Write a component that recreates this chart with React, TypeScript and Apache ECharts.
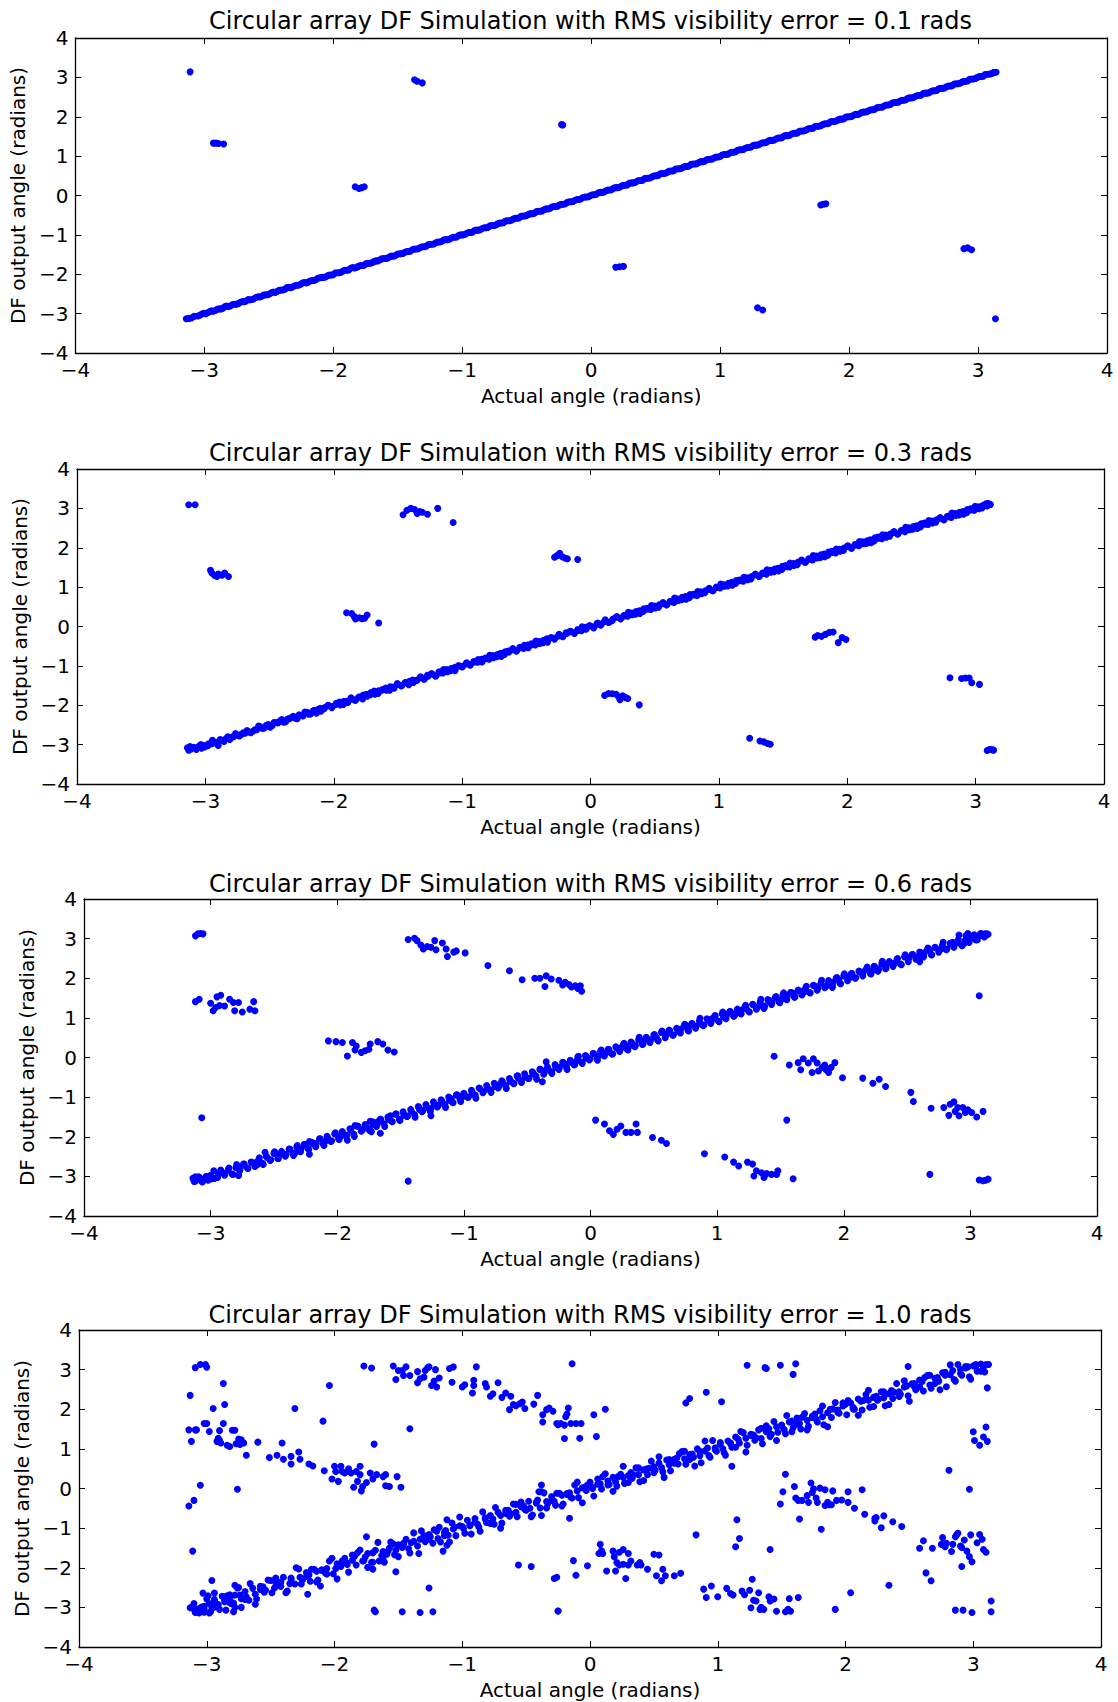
import React, { useEffect, useRef } from "react";
import * as echarts from "echarts";

const TITLES = [
  "Circular array DF Simulation with RMS visibility error = 0.1 rads",
  "Circular array DF Simulation with RMS visibility error = 0.3 rads",
  "Circular array DF Simulation with RMS visibility error = 0.6 rads",
  "Circular array DF Simulation with RMS visibility error = 1.0 rads",
];
const X_NAME = "Actual angle (radians)";
const Y_NAME = "DF output angle (radians)";
const AXIS_MIN = -4;
const AXIS_MAX = 4;
const AXIS_STEP = 1;

// Panel 1 (0.1 rads)
const p1Diag: number[][] = [
  [-3.14,-3.13],[-3.12,-3.12],[-3.10,-3.11],[-3.08,-3.07],[-3.05,-3.06],[-3.02,-3.01],[-2.99,-3.00],[-2.96,-2.95],[-2.93,-2.94],[-2.90,-2.89],
  [-2.87,-2.88],[-2.84,-2.82],[-2.81,-2.82],[-2.78,-2.77],[-2.75,-2.76],[-2.72,-2.71],[-2.69,-2.70],[-2.66,-2.64],[-2.63,-2.64],[-2.60,-2.59],
  [-2.57,-2.58],[-2.54,-2.53],[-2.51,-2.52],[-2.48,-2.47],[-2.45,-2.46],[-2.42,-2.41],[-2.39,-2.40],[-2.36,-2.34],[-2.33,-2.34],[-2.30,-2.29],
  [-2.27,-2.28],[-2.24,-2.22],[-2.21,-2.22],[-2.18,-2.17],[-2.15,-2.16],[-2.12,-2.10],[-2.09,-2.08],[-2.06,-2.07],[-2.03,-2.02],[-2.00,-2.01],
  [-1.97,-1.96],[-1.94,-1.95],[-1.91,-1.90],[-1.88,-1.89],[-1.85,-1.83],[-1.82,-1.83],[-1.79,-1.78],[-1.76,-1.77],[-1.73,-1.72],[-1.70,-1.71],
  [-1.67,-1.66],[-1.64,-1.64],[-1.61,-1.60],[-1.58,-1.59],[-1.55,-1.54],[-1.52,-1.53],[-1.49,-1.48],[-1.46,-1.47],[-1.43,-1.42],[-1.40,-1.41],
  [-1.37,-1.36],[-1.34,-1.35],[-1.31,-1.30],[-1.28,-1.29],[-1.25,-1.24],[-1.22,-1.23],[-1.19,-1.18],[-1.16,-1.17],[-1.13,-1.12],[-1.10,-1.11],
  [-1.07,-1.06],[-1.04,-1.05],[-1.01,-1.00],[-0.98,-0.99],[-0.95,-0.94],[-0.92,-0.93],[-0.89,-0.88],[-0.86,-0.87],[-0.83,-0.82],[-0.80,-0.81],
  [-0.77,-0.76],[-0.74,-0.75],[-0.71,-0.70],[-0.68,-0.69],[-0.65,-0.64],[-0.62,-0.63],[-0.59,-0.58],[-0.56,-0.57],[-0.53,-0.52],[-0.50,-0.51],
  [-0.47,-0.46],[-0.44,-0.45],[-0.41,-0.40],[-0.38,-0.39],[-0.35,-0.34],[-0.32,-0.33],[-0.29,-0.28],[-0.26,-0.27],[-0.23,-0.22],[-0.20,-0.21],
  [-0.17,-0.16],[-0.14,-0.15],[-0.11,-0.10],[-0.08,-0.09],[-0.05,-0.04],[-0.02,-0.03],[0.01,0.02],[0.04,0.03],[0.07,0.08],[0.10,0.09],
  [0.13,0.14],[0.16,0.15],[0.19,0.20],[0.22,0.21],[0.25,0.26],[0.28,0.27],[0.31,0.32],[0.34,0.33],[0.37,0.38],[0.40,0.39],
  [0.43,0.44],[0.46,0.45],[0.49,0.50],[0.52,0.51],[0.55,0.56],[0.58,0.57],[0.61,0.62],[0.64,0.63],[0.67,0.68],[0.70,0.69],
  [0.73,0.74],[0.76,0.75],[0.79,0.80],[0.82,0.81],[0.85,0.86],[0.88,0.87],[0.91,0.92],[0.94,0.93],[0.97,0.98],[1.00,0.99],
  [1.03,1.04],[1.06,1.05],[1.09,1.10],[1.12,1.11],[1.15,1.16],[1.18,1.17],[1.21,1.22],[1.24,1.23],[1.27,1.28],[1.30,1.29],
  [1.33,1.34],[1.36,1.35],[1.39,1.40],[1.42,1.41],[1.45,1.46],[1.48,1.47],[1.51,1.52],[1.54,1.53],[1.57,1.58],[1.60,1.59],
  [1.63,1.64],[1.66,1.65],[1.69,1.70],[1.72,1.71],[1.75,1.76],[1.78,1.77],[1.81,1.82],[1.84,1.83],[1.87,1.88],[1.90,1.89],
  [1.93,1.94],[1.96,1.95],[1.99,2.00],[2.02,2.01],[2.05,2.06],[2.08,2.07],[2.11,2.12],[2.14,2.13],[2.17,2.18],[2.20,2.19],
  [2.23,2.24],[2.26,2.25],[2.29,2.30],[2.32,2.31],[2.35,2.36],[2.38,2.37],[2.41,2.42],[2.44,2.43],[2.47,2.48],[2.50,2.49],
  [2.53,2.54],[2.56,2.55],[2.59,2.60],[2.62,2.61],[2.65,2.66],[2.68,2.67],[2.71,2.72],[2.74,2.73],[2.77,2.78],[2.80,2.79],
  [2.83,2.84],[2.86,2.85],[2.89,2.90],[2.92,2.91],[2.95,2.96],[2.98,2.97],[3.01,3.02],[3.04,3.03],[3.07,3.08],[3.10,3.09],
  [3.12,3.12],[3.14,3.13],
];
const p1Fill: number[][] = [
  [-3.035,-3.04],[-3.005,-2.99],[-2.975,-2.98],[-2.945,-2.93],[-2.915,-2.92],[-2.885,-2.88],[-2.855,-2.86],[-2.825,-2.81],[-2.795,-2.80],[-2.765,-2.76],
  [-2.735,-2.74],[-2.705,-2.69],[-2.675,-2.68],[-2.645,-2.65],[-2.615,-2.62],[-2.585,-2.57],[-2.555,-2.56],[-2.525,-2.52],[-2.495,-2.50],[-2.465,-2.45],
  [-2.435,-2.44],[-2.405,-2.40],[-2.375,-2.38],[-2.345,-2.33],[-2.315,-2.32],[-2.285,-2.28],[-2.255,-2.26],[-2.225,-2.21],[-2.195,-2.20],[-2.165,-2.16],
  [-2.135,-2.14],[-2.105,-2.09],[-2.075,-2.08],[-2.045,-2.04],[-2.015,-2.02],[-1.985,-1.97],[-1.955,-1.96],[-1.925,-1.92],[-1.895,-1.90],[-1.865,-1.85],
  [-1.835,-1.84],[-1.805,-1.80],[-1.775,-1.78],[-1.745,-1.73],[-1.715,-1.72],[-1.685,-1.68],[-1.655,-1.66],[-1.625,-1.61],[-1.595,-1.60],[-1.565,-1.56],
  [-1.535,-1.54],[-1.505,-1.49],[-1.475,-1.48],[-1.445,-1.44],[-1.415,-1.42],[-1.385,-1.37],[-1.355,-1.36],[-1.325,-1.32],[-1.295,-1.30],[-1.265,-1.25],
  [-1.235,-1.24],[-1.205,-1.20],[-1.175,-1.18],[-1.145,-1.13],[-1.115,-1.12],[-1.085,-1.08],[-1.055,-1.06],[-1.025,-1.01],[-0.995,-1.00],[-0.965,-0.96],
  [-0.935,-0.94],[-0.905,-0.89],[-0.875,-0.88],[-0.845,-0.84],[-0.815,-0.82],[-0.785,-0.77],[-0.755,-0.76],[-0.725,-0.72],[-0.695,-0.70],[-0.665,-0.65],
  [-0.635,-0.64],[-0.605,-0.60],[-0.575,-0.58],[-0.545,-0.53],[-0.515,-0.52],[-0.485,-0.48],[-0.455,-0.46],[-0.425,-0.41],[-0.395,-0.40],[-0.365,-0.36],
  [-0.335,-0.34],[-0.305,-0.29],[-0.275,-0.28],[-0.245,-0.24],[-0.215,-0.22],[-0.185,-0.17],[-0.155,-0.16],[-0.125,-0.12],[-0.095,-0.10],[-0.065,-0.05],
  [-0.035,-0.04],[-0.005,0.00],[0.025,0.02],[0.055,0.07],[0.085,0.08],[0.115,0.12],[0.145,0.14],[0.175,0.19],[0.205,0.20],[0.235,0.24],
  [0.265,0.26],[0.295,0.31],[0.325,0.32],[0.355,0.36],[0.385,0.38],[0.415,0.43],[0.445,0.44],[0.475,0.48],[0.505,0.50],[0.535,0.55],
  [0.565,0.56],[0.595,0.60],[0.625,0.62],[0.655,0.67],[0.685,0.68],[0.715,0.72],[0.745,0.74],[0.775,0.79],[0.805,0.80],[0.835,0.84],
  [0.865,0.86],[0.895,0.91],[0.925,0.92],[0.955,0.96],[0.985,0.98],[1.015,1.03],[1.045,1.04],[1.075,1.08],[1.105,1.10],[1.135,1.15],
  [1.165,1.16],[1.195,1.20],[1.225,1.22],[1.255,1.27],[1.285,1.28],[1.315,1.32],[1.345,1.34],[1.375,1.39],[1.405,1.40],[1.435,1.44],
  [1.465,1.46],[1.495,1.51],[1.525,1.52],[1.555,1.56],[1.585,1.58],[1.615,1.63],[1.645,1.64],[1.675,1.68],[1.705,1.70],[1.735,1.75],
  [1.765,1.76],[1.795,1.80],[1.825,1.82],[1.855,1.87],[1.885,1.88],[1.915,1.92],[1.945,1.94],[1.975,1.99],[2.005,2.00],[2.035,2.04],
  [2.065,2.06],[2.095,2.11],[2.125,2.12],[2.155,2.16],[2.185,2.18],[2.215,2.23],[2.245,2.24],[2.275,2.28],[2.305,2.30],[2.335,2.35],
  [2.365,2.36],[2.395,2.40],[2.425,2.42],[2.455,2.47],[2.485,2.48],[2.515,2.52],[2.545,2.54],[2.575,2.59],[2.605,2.60],[2.635,2.64],
  [2.665,2.66],[2.695,2.71],[2.725,2.72],[2.755,2.76],[2.785,2.78],[2.815,2.83],[2.845,2.84],[2.875,2.88],[2.905,2.90],[2.935,2.95],
  [2.965,2.96],[2.995,3.00],[3.025,3.02],[3.055,3.07],[3.085,3.08],[3.115,3.11],
];
const p1Out: number[][] = [
  [-3.11,3.14],[-2.93,1.33],[-2.91,1.33],[-2.89,1.32],[-2.85,1.31],[-1.37,2.94],[-1.35,2.90],[-1.31,2.86],
  [-1.83,0.22],[-1.80,0.18],[-1.78,0.20],[-1.76,0.22],[-0.23,1.80],[-0.22,1.79],[0.19,-1.82],[0.22,-1.81],[0.25,-1.80],
  [1.78,-0.24],[1.80,-0.22],[1.82,-0.21],[1.29,-2.85],[1.33,-2.91],[2.89,-1.35],[2.92,-1.33],[2.95,-1.38],[3.135,-3.13],
];

// Panel 2 (0.3 rads)
const p2Diag: number[][] = [
  [-3.14,-3.08],[-3.13,-3.14],[-3.12,-3.05],[-3.11,-3.11],[-3.09,-3.07],[-3.07,-3.12],[-3.05,-3.04],[-3.03,-3.09],[-3.01,-3.02],[-2.98,-3.03],
  [-2.95,-2.98],[-2.92,-2.96],[-2.90,-3.02],[-2.87,-2.89],[-2.84,-2.85],[-2.81,-2.87],[-2.78,-2.80],[-2.75,-2.77],[-2.72,-2.74],[-2.69,-2.71],
  [-2.66,-2.68],[-2.63,-2.66],[-2.60,-2.62],[-2.57,-2.55],[-2.54,-2.58],[-2.51,-2.49],[-2.48,-2.52],[-2.45,-2.44],[-2.42,-2.40],[-2.39,-2.43],
  [-2.36,-2.35],[-2.33,-2.31],[-2.30,-2.33],[-2.27,-2.24],[-2.24,-2.27],[-2.21,-2.18],[-2.18,-2.22],[-2.15,-2.13],[-2.12,-2.10],[-2.10,-2.15],
  [-2.07,-2.06],[-2.04,-2.01],[-2.01,-2.03],[-1.98,-1.95],[-1.95,-1.99],[-1.92,-1.90],[-1.89,-1.93],[-1.86,-1.84],[-1.83,-1.87],[-1.80,-1.79],
  [-1.77,-1.74],[-1.74,-1.77],[-1.71,-1.68],[-1.68,-1.72],[-1.65,-1.63],[-1.62,-1.60],[-1.59,-1.62],[-1.56,-1.53],[-1.53,-1.57],[-1.50,-1.47],
  [-1.47,-1.50],[-1.44,-1.42],[-1.41,-1.39],[-1.38,-1.42],[-1.35,-1.36],[-1.32,-1.29],[-1.30,-1.33],[-1.27,-1.24],[-1.24,-1.20],[-1.21,-1.25],
  [-1.18,-1.15],[-1.15,-1.18],[-1.12,-1.09],[-1.09,-1.12],[-1.06,-1.04],[-1.03,-1.00],[-1.00,-1.03],[-0.97,-0.95],[-0.94,-0.98],[-0.91,-0.89],
  [-0.88,-0.91],[-0.85,-0.83],[-0.82,-0.80],[-0.79,-0.83],[-0.76,-0.74],[-0.73,-0.77],[-0.70,-0.68],[-0.67,-0.71],[-0.64,-0.62],[-0.61,-0.59],
  [-0.58,-0.62],[-0.55,-0.53],[-0.52,-0.56],[-0.49,-0.47],[-0.46,-0.44],[-0.43,-0.47],[-0.40,-0.38],[-0.37,-0.41],[-0.34,-0.31],[-0.31,-0.29],
  [-0.28,-0.32],[-0.25,-0.24],[-0.22,-0.25],[-0.19,-0.16],[-0.16,-0.13],[-0.13,-0.16],[-0.10,-0.08],[-0.07,-0.11],[-0.04,-0.02],[-0.01,0.02],
  [0.02,-0.01],[0.05,0.06],[0.08,0.03],[0.11,0.13],[0.14,0.10],[0.17,0.15],[0.20,0.24],[0.23,0.21],[0.26,0.28],[0.29,0.26],
  [0.32,0.34],[0.35,0.31],[0.38,0.40],[0.41,0.38],[0.44,0.46],[0.47,0.43],[0.50,0.52],[0.53,0.49],[0.56,0.58],[0.59,0.55],
  [0.62,0.64],[0.65,0.61],[0.68,0.70],[0.71,0.68],[0.74,0.76],[0.77,0.73],[0.80,0.82],[0.83,0.79],[0.86,0.88],[0.89,0.86],
  [0.92,0.94],[0.95,0.91],[0.98,1.00],[1.01,0.98],[1.04,1.06],[1.07,1.03],[1.10,1.12],[1.13,1.09],[1.16,1.18],[1.19,1.15],
  [1.22,1.24],[1.25,1.21],[1.28,1.31],[1.31,1.28],[1.34,1.36],[1.37,1.33],[1.40,1.43],[1.43,1.39],[1.46,1.48],[1.49,1.45],
  [1.52,1.55],[1.55,1.51],[1.58,1.60],[1.61,1.57],[1.64,1.67],[1.67,1.63],[1.70,1.72],[1.73,1.69],[1.76,1.79],[1.79,1.75],
  [1.82,1.84],[1.85,1.81],[1.88,1.91],[1.91,1.87],[1.94,1.96],[1.97,1.93],[2.00,2.03],[2.03,1.99],[2.06,2.08],[2.09,2.05],
  [2.12,2.15],[2.15,2.11],[2.18,2.20],[2.21,2.17],[2.24,2.27],[2.27,2.23],[2.30,2.32],[2.33,2.29],[2.36,2.39],[2.39,2.35],
  [2.42,2.44],[2.45,2.41],[2.48,2.51],[2.51,2.47],[2.54,2.56],[2.57,2.53],[2.60,2.63],[2.63,2.59],[2.66,2.68],[2.69,2.65],
  [2.72,2.75],[2.75,2.71],[2.78,2.80],[2.81,2.77],[2.84,2.87],[2.87,2.83],[2.90,2.92],[2.93,2.89],[2.96,2.99],[2.99,2.95],
  [3.02,3.04],[3.05,3.01],[3.07,3.09],[3.09,3.06],[3.10,3.12],[3.11,3.10],
];
const p2Fill: number[][] = [
  [-3.035,-3.00],[-3.005,-3.06],[-2.975,-2.98],[-2.945,-2.89],[-2.915,-2.95],[-2.885,-2.87],[-2.855,-2.92],[-2.825,-2.80],[-2.795,-2.81],[-2.765,-2.72],
  [-2.735,-2.78],[-2.705,-2.70],[-2.675,-2.64],[-2.645,-2.70],[-2.615,-2.62],[-2.585,-2.53],[-2.555,-2.59],[-2.525,-2.51],[-2.495,-2.56],[-2.465,-2.44],
  [-2.435,-2.45],[-2.405,-2.36],[-2.375,-2.42],[-2.345,-2.34],[-2.315,-2.28],[-2.285,-2.34],[-2.255,-2.26],[-2.225,-2.17],[-2.195,-2.23],[-2.165,-2.15],
  [-2.135,-2.20],[-2.105,-2.08],[-2.075,-2.09],[-2.045,-2.00],[-2.015,-2.06],[-1.985,-1.98],[-1.955,-1.92],[-1.925,-1.98],[-1.895,-1.90],[-1.865,-1.81],
  [-1.835,-1.87],[-1.805,-1.79],[-1.775,-1.84],[-1.745,-1.72],[-1.715,-1.73],[-1.685,-1.64],[-1.655,-1.70],[-1.625,-1.62],[-1.595,-1.56],[-1.565,-1.62],
  [-1.535,-1.54],[-1.505,-1.45],[-1.475,-1.51],[-1.445,-1.43],[-1.415,-1.48],[-1.385,-1.36],[-1.355,-1.37],[-1.325,-1.28],[-1.295,-1.34],[-1.265,-1.26],
  [-1.235,-1.20],[-1.205,-1.26],[-1.175,-1.18],[-1.145,-1.09],[-1.115,-1.15],[-1.085,-1.07],[-1.055,-1.12],[-1.025,-1.00],[-0.995,-1.01],[-0.965,-0.92],
  [-0.935,-0.98],[-0.905,-0.90],[-0.875,-0.84],[-0.845,-0.90],[-0.815,-0.82],[-0.785,-0.73],[-0.755,-0.79],[-0.725,-0.71],[-0.695,-0.76],[-0.665,-0.64],
  [-0.635,-0.65],[-0.605,-0.56],[-0.575,-0.62],[-0.545,-0.54],[-0.515,-0.48],[-0.485,-0.54],[-0.455,-0.46],[-0.425,-0.37],[-0.395,-0.43],[-0.365,-0.35],
  [-0.335,-0.40],[-0.305,-0.28],[-0.275,-0.29],[-0.245,-0.20],[-0.215,-0.26],[-0.185,-0.18],[-0.155,-0.12],[-0.125,-0.18],[-0.095,-0.10],[-0.065,-0.01],
  [-0.035,-0.07],[-0.005,0.02],[0.025,-0.04],[0.055,0.09],[0.085,0.07],[0.115,0.17],[0.145,0.11],[0.175,0.19],[0.205,0.25],[0.235,0.19],
  [0.265,0.27],[0.295,0.36],[0.325,0.30],[0.355,0.38],[0.385,0.33],[0.415,0.45],[0.445,0.44],[0.475,0.53],[0.505,0.47],[0.535,0.55],
  [0.565,0.61],[0.595,0.55],[0.625,0.63],[0.655,0.72],[0.685,0.66],[0.715,0.74],[0.745,0.69],[0.775,0.81],[0.805,0.80],[0.835,0.89],
  [0.865,0.83],[0.895,0.91],[0.925,0.97],[0.955,0.91],[0.985,0.99],[1.015,1.08],[1.045,1.02],[1.075,1.10],[1.105,1.05],[1.135,1.17],
  [1.165,1.16],[1.195,1.25],[1.225,1.19],[1.255,1.27],[1.285,1.33],[1.315,1.27],[1.345,1.35],[1.375,1.44],[1.405,1.38],[1.435,1.46],
  [1.465,1.41],[1.495,1.53],[1.525,1.52],[1.555,1.61],[1.585,1.55],[1.615,1.63],[1.645,1.69],[1.675,1.63],[1.705,1.71],[1.735,1.80],
  [1.765,1.74],[1.795,1.82],[1.825,1.77],[1.855,1.89],[1.885,1.88],[1.915,1.97],[1.945,1.91],[1.975,1.99],[2.005,2.05],[2.035,1.99],
  [2.065,2.07],[2.095,2.16],[2.125,2.10],[2.155,2.18],[2.185,2.13],[2.215,2.25],[2.245,2.24],[2.275,2.33],[2.305,2.27],[2.335,2.35],
  [2.365,2.41],[2.395,2.35],[2.425,2.43],[2.455,2.52],[2.485,2.46],[2.515,2.54],[2.545,2.49],[2.575,2.61],[2.605,2.60],[2.635,2.69],
  [2.665,2.63],[2.695,2.71],[2.725,2.77],[2.755,2.71],[2.785,2.79],[2.815,2.88],[2.845,2.82],[2.875,2.90],[2.905,2.85],[2.935,2.97],
  [2.965,2.96],[2.995,3.05],[3.025,2.99],[3.055,3.07],[3.085,3.12],[3.115,3.10],
];
const p2Out: number[][] = [
  [-3.13,3.09],[-3.08,3.09],
  [-2.96,1.43],[-2.95,1.36],[-2.93,1.30],[-2.91,1.27],[-2.90,1.33],[-2.87,1.30],[-2.85,1.36],[-2.82,1.27],
  [-1.90,0.35],[-1.86,0.33],[-1.84,0.25],[-1.83,0.19],[-1.80,0.22],[-1.78,0.20],[-1.76,0.21],[-1.74,0.29],[-1.65,0.09],
  [-1.46,2.84],[-1.43,2.95],[-1.40,3.00],[-1.37,2.97],[-1.35,2.87],[-1.33,2.92],[-1.31,2.90],[-1.27,2.85],[-1.19,3.00],[-1.07,2.64],
  [-0.28,1.76],[-0.26,1.80],[-0.24,1.86],[-0.22,1.77],[-0.20,1.74],[-0.18,1.72],[-0.10,1.70],
  [0.11,-1.75],[0.14,-1.70],[0.17,-1.71],[0.20,-1.72],[0.22,-1.79],[0.23,-1.86],[0.25,-1.76],[0.27,-1.80],[0.29,-1.83],[0.38,-1.99],
  [1.24,-2.84],[1.32,-2.91],[1.35,-2.93],[1.38,-2.97],[1.40,-2.99],
  [1.75,-0.27],[1.77,-0.23],[1.80,-0.25],[1.83,-0.20],[1.86,-0.15],[1.89,-0.14],[1.93,-0.41],[1.96,-0.28],[1.99,-0.33],
  [2.80,-1.30],[2.89,-1.32],[2.92,-1.31],[2.95,-1.31],[2.97,-1.43],[3.03,-1.47],
  [3.09,-3.15],[3.11,-3.12],[3.13,-3.13],[3.14,-3.14],
];

// Panel 3 (0.6 rads)
const p3Diag: number[][] = [
  [-3.14,-3.05],[-3.13,-3.13],[-3.11,-3.09],[-3.09,-3.02],[-3.07,-3.12],[-3.05,-3.06],[-3.02,-3.10],[-3.00,-2.97],[-2.97,-3.05],[-2.94,-2.92],
  [-2.92,-2.84],[-2.89,-2.97],[-2.86,-2.83],[-2.83,-2.94],[-2.80,-2.78],[-2.77,-2.86],[-2.74,-2.69],[-2.71,-2.79],[-2.68,-2.64],[-2.65,-2.75],
  [-2.62,-2.58],[-2.59,-2.67],[-2.56,-2.49],[-2.53,-2.60],[-2.50,-2.42],[-2.47,-2.55],[-2.44,-2.37],[-2.41,-2.49],[-2.38,-2.31],[-2.35,-2.43],
  [-2.32,-2.26],[-2.29,-2.38],[-2.26,-2.19],[-2.23,-2.30],[-2.20,-2.14],[-2.17,-2.25],[-2.14,-2.05],[-2.11,-2.18],[-2.08,-1.99],[-2.05,-2.12],
  [-2.02,-1.93],[-1.99,-2.05],[-1.96,-1.87],[-1.93,-1.99],[-1.90,-1.80],[-1.87,-1.93],[-1.84,-1.73],[-1.81,-1.86],[-1.78,-1.69],[-1.75,-1.80],
  [-1.72,-1.62],[-1.69,-1.74],[-1.66,-1.55],[-1.63,-1.67],[-1.60,-1.50],[-1.57,-1.61],[-1.54,-1.43],[-1.51,-1.56],[-1.48,-1.37],[-1.45,-1.49],
  [-1.42,-1.31],[-1.39,-1.44],[-1.36,-1.24],[-1.33,-1.37],[-1.30,-1.19],[-1.27,-1.31],[-1.24,-1.12],[-1.21,-1.25],[-1.18,-1.07],[-1.15,-1.19],
  [-1.12,-1.00],[-1.09,-1.13],[-1.06,-0.95],[-1.03,-1.06],[-1.00,-0.90],[-0.97,-1.00],[-0.94,-0.83],[-0.91,-0.95],[-0.88,-0.77],[-0.85,-0.89],
  [-0.82,-0.71],[-0.79,-0.83],[-0.76,-0.65],[-0.73,-0.77],[-0.70,-0.59],[-0.67,-0.71],[-0.64,-0.53],[-0.61,-0.65],[-0.58,-0.47],[-0.55,-0.59],
  [-0.52,-0.41],[-0.49,-0.53],[-0.46,-0.36],[-0.43,-0.47],[-0.40,-0.30],[-0.37,-0.42],[-0.34,-0.24],[-0.31,-0.36],[-0.28,-0.18],[-0.25,-0.30],
  [-0.22,-0.12],[-0.19,-0.24],[-0.16,-0.07],[-0.13,-0.18],[-0.10,0.01],[-0.07,-0.12],[-0.04,0.05],[-0.01,-0.06],[0.02,0.10],[0.05,-0.01],
  [0.08,0.16],[0.11,0.04],[0.14,0.21],[0.17,0.09],[0.20,0.27],[0.23,0.15],[0.26,0.33],[0.29,0.21],[0.32,0.39],[0.35,0.27],
  [0.38,0.45],[0.41,0.33],[0.44,0.51],[0.47,0.38],[0.50,0.57],[0.53,0.44],[0.56,0.63],[0.59,0.50],[0.62,0.69],[0.65,0.56],
  [0.68,0.74],[0.71,0.62],[0.74,0.80],[0.77,0.68],[0.80,0.86],[0.83,0.74],[0.86,0.92],[0.89,0.80],[0.92,0.98],[0.95,0.86],
  [0.98,1.04],[1.01,0.92],[1.04,1.10],[1.07,0.98],[1.10,1.16],[1.13,1.04],[1.16,1.22],[1.19,1.10],[1.22,1.28],[1.25,1.16],
  [1.28,1.34],[1.31,1.22],[1.34,1.40],[1.37,1.28],[1.40,1.46],[1.43,1.34],[1.46,1.52],[1.49,1.40],[1.52,1.58],[1.55,1.46],
  [1.58,1.64],[1.61,1.52],[1.64,1.70],[1.67,1.58],[1.70,1.76],[1.73,1.64],[1.76,1.82],[1.79,1.70],[1.82,1.88],[1.85,1.76],
  [1.88,1.94],[1.91,1.82],[1.94,2.00],[1.97,1.88],[2.00,2.06],[2.03,1.94],[2.06,2.12],[2.09,2.00],[2.12,2.18],[2.15,2.06],
  [2.18,2.24],[2.21,2.12],[2.24,2.30],[2.27,2.18],[2.30,2.36],[2.33,2.24],[2.36,2.42],[2.39,2.30],[2.42,2.48],[2.45,2.36],
  [2.48,2.54],[2.51,2.42],[2.54,2.60],[2.57,2.48],[2.60,2.66],[2.63,2.54],[2.66,2.72],[2.69,2.60],[2.72,2.78],[2.75,2.66],
  [2.78,2.84],[2.81,2.72],[2.84,2.88],[2.87,2.78],[2.90,2.92],[2.93,2.84],[2.96,2.96],[2.99,2.90],[3.02,3.02],[3.05,2.97],
  [3.08,3.08],[3.11,3.04],[3.13,3.12],
  [-3.12,-3.01],[-2.99,-3.06],[-2.91,-2.90],[-2.78,-2.98],[-2.63,-2.70],[-2.57,-2.39],[-2.46,-2.47],[-2.33,-2.40],[-2.22,-2.12],[-2.09,-2.10],
  [-1.97,-1.98],[-1.86,-1.72],[-1.80,-1.82],[-1.74,-1.61],[-1.68,-1.62],[-1.58,-1.47],[-1.47,-1.45],[-1.35,-1.31],[-1.26,-1.28],[-1.20,-1.20],
  [-1.10,-1.04],[-1.02,-0.97],[-0.93,-0.92],[-0.81,-0.79],[-0.72,-0.68],[-0.63,-0.60],[-0.57,-0.52],[-0.45,-0.41],[-0.36,-0.34],[-0.27,-0.23],
  [-0.20,-0.17],[-0.11,-0.09],[-0.03,0.01],[0.07,0.05],[0.15,0.14],[0.24,0.23],[0.31,0.30],[0.42,0.42],[0.52,0.51],[0.60,0.58],
  [0.69,0.67],[0.78,0.79],[0.87,0.85],[0.96,0.98],[1.05,1.03],[1.15,1.11],[1.23,1.23],[1.33,1.30],[1.42,1.43],[1.51,1.47],
  [1.60,1.62],[1.69,1.66],[1.78,1.79],[1.87,1.83],[1.96,1.97],[2.05,2.02],[2.14,2.15],[2.23,2.20],[2.32,2.35],[2.41,2.39],
  [2.50,2.52],[2.59,2.55],[2.68,2.70],[2.77,2.74],[2.86,2.91],[2.95,2.88],[3.03,3.10],[3.12,3.08],
  [-2.78,-2.97],[-1.66,-1.91],[-1.73,-1.87],[-1.26,-1.47],[-1.92,-2.09],[-2.22,-2.44],[-0.38,-0.61],[-0.35,-0.11],
  [1.37,1.24],[1.91,1.77],[2.60,2.42],[2.91,3.09],[2.98,3.13],[3.01,3.05],[3.04,2.97],[3.08,3.13],[3.12,3.10],[3.14,3.11],
];
const p3Fill: number[][] = [
  [-3.125,-3.13],[-3.095,-3.01],[-3.065,-3.14],[-3.035,-3.00],[-3.005,-3.06],[-2.975,-2.86],[-2.945,-3.03],[-2.915,-2.90],[-2.885,-2.92],[-2.855,-2.79],
  [-2.825,-2.95],[-2.795,-2.70],[-2.765,-2.78],[-2.735,-2.69],[-2.705,-2.80],[-2.675,-2.65],[-2.645,-2.65],[-2.615,-2.53],[-2.585,-2.70],[-2.555,-2.52],
  [-2.525,-2.58],[-2.495,-2.38],[-2.465,-2.55],[-2.435,-2.42],[-2.405,-2.44],[-2.375,-2.31],[-2.345,-2.47],[-2.315,-2.22],[-2.285,-2.30],[-2.255,-2.21],
  [-2.225,-2.32],[-2.195,-2.17],[-2.165,-2.17],[-2.135,-2.05],[-2.105,-2.22],[-2.075,-2.04],[-2.045,-2.10],[-2.015,-1.90],[-1.985,-2.07],[-1.955,-1.94],
  [-1.925,-1.96],[-1.895,-1.83],[-1.865,-1.99],[-1.835,-1.74],[-1.805,-1.82],[-1.775,-1.73],[-1.745,-1.84],[-1.715,-1.69],[-1.685,-1.69],[-1.655,-1.57],
  [-1.625,-1.74],[-1.595,-1.56],[-1.565,-1.62],[-1.535,-1.42],[-1.505,-1.59],[-1.475,-1.46],[-1.445,-1.48],[-1.415,-1.35],[-1.385,-1.51],[-1.355,-1.26],
  [-1.325,-1.34],[-1.295,-1.25],[-1.265,-1.36],[-1.235,-1.21],[-1.205,-1.21],[-1.175,-1.09],[-1.145,-1.26],[-1.115,-1.08],[-1.085,-1.14],[-1.055,-0.94],
  [-1.025,-1.11],[-0.995,-0.98],[-0.965,-1.00],[-0.935,-0.87],[-0.905,-1.03],[-0.875,-0.78],[-0.845,-0.86],[-0.815,-0.77],[-0.785,-0.88],[-0.755,-0.73],
  [-0.725,-0.73],[-0.695,-0.61],[-0.665,-0.78],[-0.635,-0.60],[-0.605,-0.66],[-0.575,-0.46],[-0.545,-0.63],[-0.515,-0.50],[-0.485,-0.52],[-0.455,-0.39],
  [-0.425,-0.55],[-0.395,-0.30],[-0.365,-0.38],[-0.335,-0.29],[-0.305,-0.40],[-0.275,-0.25],[-0.245,-0.25],[-0.215,-0.13],[-0.185,-0.30],[-0.155,-0.12],
  [-0.125,-0.18],[-0.095,0.03],[-0.065,-0.15],[-0.035,-0.02],[-0.005,-0.04],[0.025,0.10],[0.055,-0.07],[0.085,0.19],[0.115,0.11],[0.145,0.20],
  [0.175,0.09],[0.205,0.24],[0.235,0.24],[0.265,0.36],[0.295,0.19],[0.325,0.37],[0.355,0.31],[0.385,0.51],[0.415,0.34],[0.445,0.47],
  [0.475,0.45],[0.505,0.58],[0.535,0.42],[0.565,0.67],[0.595,0.59],[0.625,0.68],[0.655,0.57],[0.685,0.72],[0.715,0.72],[0.745,0.84],
  [0.775,0.67],[0.805,0.85],[0.835,0.79],[0.865,0.99],[0.895,0.82],[0.925,0.95],[0.955,0.93],[0.985,1.06],[1.015,0.90],[1.045,1.15],
  [1.075,1.07],[1.105,1.16],[1.135,1.05],[1.165,1.20],[1.195,1.20],[1.225,1.32],[1.255,1.15],[1.285,1.33],[1.315,1.27],[1.345,1.47],
  [1.375,1.30],[1.405,1.43],[1.435,1.41],[1.465,1.54],[1.495,1.38],[1.525,1.63],[1.555,1.55],[1.585,1.64],[1.615,1.53],[1.645,1.68],
  [1.675,1.68],[1.705,1.80],[1.735,1.63],[1.765,1.81],[1.795,1.75],[1.825,1.95],[1.855,1.78],[1.885,1.91],[1.915,1.89],[1.945,2.02],
  [1.975,1.86],[2.005,2.11],[2.035,2.03],[2.065,2.12],[2.095,2.01],[2.125,2.16],[2.155,2.16],[2.185,2.28],[2.215,2.11],[2.245,2.29],
  [2.275,2.23],[2.305,2.43],[2.335,2.26],[2.365,2.39],[2.395,2.37],[2.425,2.50],[2.455,2.34],[2.485,2.59],[2.515,2.51],[2.545,2.60],
  [2.575,2.49],[2.605,2.64],[2.635,2.64],[2.665,2.76],[2.695,2.59],[2.725,2.77],[2.755,2.71],[2.785,2.91],[2.815,2.74],[2.845,2.87],
  [2.875,2.85],[2.905,2.98],[2.935,2.82],[2.965,3.07],[2.995,2.99],[3.025,3.08],[3.055,2.97],[3.085,3.12],[3.115,3.12],
];
const p3Out: number[][] = [
  [-3.12,3.07],[-3.10,3.12],[-3.08,3.13],[-3.06,3.12],
  [-3.12,1.41],[-3.09,1.47],[-3.00,1.37],[-2.98,1.18],[-2.96,1.26],[-2.95,1.53],[-2.92,1.57],[-2.93,1.31],[-2.89,1.30],[-2.85,1.47],
  [-2.82,1.39],[-2.81,1.18],[-2.78,1.39],[-2.75,1.15],[-2.69,1.22],[-2.66,1.41],[-2.65,1.18],
  [-3.07,-1.52],
  [-2.07,0.42],[-2.01,0.40],[-1.96,0.38],[-1.92,0.04],[-1.88,0.38],[-1.86,0.19],[-1.85,0.29],[-1.81,0.13],[-1.78,0.17],[-1.75,0.21],
  [-1.74,0.34],[-1.68,0.40],[-1.64,0.34],[-1.60,0.19],[-1.55,0.14],
  [-1.44,-3.12],
  [-1.44,2.98],[-1.39,3.01],[-1.37,2.95],[-1.34,2.84],[-1.32,2.74],[-1.29,2.80],[-1.26,2.78],[-1.23,2.95],[-1.22,2.72],[-1.17,2.89],
  [-1.14,2.74],[-1.13,2.55],[-1.08,2.66],[-1.06,2.69],[-0.99,2.64],[-0.81,2.32],[-0.64,2.19],[-0.54,1.96],[-0.44,2.00],[-0.40,2.00],
  [-0.36,1.79],[-0.35,2.06],[-0.31,1.98],[-0.25,1.95],[-0.22,1.83],[-0.20,1.90],[-0.17,1.84],[-0.15,1.78],[-0.12,1.81],[-0.08,1.81],
  [-0.07,1.67],[-0.10,1.74],
  [1.45,0.03],[1.57,-0.19],[1.64,-0.13],[1.66,-0.31],[1.68,-0.03],[1.72,-0.14],[1.75,-0.38],[1.76,-0.03],[1.79,-0.14],[1.80,-0.34],
  [1.83,-0.25],[1.85,-0.19],[1.86,-0.31],[1.88,-0.38],[1.90,-0.25],[1.93,-0.13],
  [1.99,-0.51],[2.15,-0.52],[2.23,-0.65],[2.28,-0.55],[2.33,-0.73],[2.53,-0.88],[2.55,-1.11],[2.69,-1.28],
  [2.79,-1.26],[2.83,-1.46],[2.84,-1.18],[2.87,-1.12],[2.88,-1.36],[2.90,-1.26],[2.91,-1.47],[2.94,-1.26],[2.96,-1.39],[2.98,-1.32],
  [3.01,-1.39],[3.05,-1.50],[3.10,-1.36],
  [3.07,1.56],[1.55,-1.58],
  [0.04,-1.58],[0.11,-1.68],[0.15,-1.85],[0.18,-1.94],[0.21,-1.81],[0.24,-1.73],[0.28,-1.89],[0.32,-1.89],[0.36,-1.68],[0.37,-1.89],
  [0.49,-2.02],[0.56,-2.09],[0.60,-2.17],
  [0.90,-2.43],[1.06,-2.51],[1.13,-2.64],[1.17,-2.74],[1.24,-2.64],[1.28,-2.69],[1.29,-2.99],[1.31,-2.86],[1.35,-2.91],[1.37,-3.03],
  [1.39,-2.93],[1.43,-2.95],[1.48,-2.86],[1.47,-2.95],[1.60,-3.06],
  [2.68,-2.95],[3.07,-3.09],[3.10,-3.11],[3.12,-3.10],[3.14,-3.07],
];

// Panel 4 (1.0 rads)
const p4Diag: number[][] = [
  [-3.12,-3.00],[-3.09,-3.13],[-3.06,-3.03],[-3.03,-3.10],[-3.00,-2.79],[-2.97,-3.11],[-2.94,-2.86],[-2.91,-2.93],[-2.88,-2.72],[-2.85,-3.07],
  [-2.82,-2.77],[-2.79,-2.89],[-2.76,-2.51],[-2.73,-2.78],[-2.70,-2.60],[-2.67,-2.82],[-2.64,-2.52],[-2.61,-2.79],[-2.58,-2.55],[-2.55,-2.62],
  [-2.52,-2.31],[-2.49,-2.63],[-2.46,-2.38],[-2.43,-2.45],[-2.40,-2.24],[-2.37,-2.59],[-2.34,-2.29],[-2.31,-2.41],[-2.28,-2.03],[-2.25,-2.30],
  [-2.22,-2.12],[-2.19,-2.34],[-2.16,-2.04],[-2.13,-2.31],[-2.10,-2.07],[-2.07,-2.14],[-2.04,-1.83],[-2.01,-2.15],[-1.98,-1.90],[-1.95,-1.97],
  [-1.92,-1.76],[-1.89,-2.11],[-1.86,-1.81],[-1.83,-1.93],[-1.80,-1.55],[-1.77,-1.82],[-1.74,-1.64],[-1.71,-1.86],[-1.68,-1.56],[-1.65,-1.83],
  [-1.62,-1.59],[-1.59,-1.66],[-1.56,-1.35],[-1.53,-1.67],[-1.50,-1.42],[-1.47,-1.49],[-1.44,-1.28],[-1.41,-1.63],[-1.38,-1.33],[-1.35,-1.45],
  [-1.32,-1.07],[-1.29,-1.34],[-1.26,-1.16],[-1.23,-1.38],[-1.20,-1.08],[-1.17,-1.35],[-1.14,-1.11],[-1.11,-1.18],[-1.08,-0.87],[-1.05,-1.19],
  [-1.02,-0.94],[-0.99,-1.01],[-0.96,-0.80],[-0.93,-1.15],[-0.90,-0.85],[-0.87,-0.97],[-0.84,-0.59],[-0.81,-0.86],[-0.78,-0.68],[-0.75,-0.90],
  [-0.72,-0.60],[-0.69,-0.87],[-0.66,-0.63],[-0.63,-0.70],[-0.60,-0.39],[-0.57,-0.71],[-0.54,-0.46],[-0.51,-0.53],[-0.48,-0.32],[-0.45,-0.67],
  [-0.42,-0.37],[-0.39,-0.49],[-0.36,-0.11],[-0.33,-0.38],[-0.30,-0.20],[-0.27,-0.42],[-0.24,-0.12],[-0.21,-0.39],[-0.18,-0.15],[-0.15,-0.22],
  [-0.12,0.09],[-0.09,-0.23],[-0.06,0.02],[-0.03,-0.05],[0.00,0.16],[0.03,-0.19],[0.06,0.11],[0.09,-0.01],[0.12,0.37],[0.15,0.10],
  [0.18,0.28],[0.21,0.06],[0.24,0.36],[0.27,0.13],[0.30,0.33],[0.33,0.26],[0.36,0.52],[0.39,0.17],[0.42,0.47],[0.45,0.35],
  [0.48,0.69],[0.51,0.46],[0.54,0.64],[0.57,0.42],[0.60,0.72],[0.63,0.45],[0.66,0.74],[0.69,0.62],[0.72,0.93],[0.75,0.61],
  [0.78,0.86],[0.81,0.79],[0.84,1.00],[0.87,0.65],[0.90,0.95],[0.93,0.83],[0.96,1.21],[0.99,0.94],[1.02,1.12],[1.05,0.90],
  [1.08,1.20],[1.11,1.04],[1.14,1.30],[1.17,1.15],[1.20,1.41],[1.23,1.09],[1.26,1.34],[1.29,1.22],[1.32,1.48],[1.35,1.13],
  [1.38,1.43],[1.41,1.31],[1.44,1.69],[1.47,1.42],[1.50,1.60],[1.53,1.38],[1.56,1.68],[1.59,1.53],[1.62,1.78],[1.65,1.50],
  [1.68,1.89],[1.71,1.57],[1.74,1.82],[1.77,1.75],[1.80,1.96],[1.83,1.61],[1.86,1.91],[1.89,1.79],[1.92,2.17],[1.95,1.90],
  [1.98,2.08],[2.01,1.86],[2.04,2.16],[2.07,2.00],[2.10,2.26],[2.13,1.98],[2.16,2.37],[2.19,2.05],[2.22,2.30],[2.25,2.23],
  [2.28,2.44],[2.31,2.09],[2.34,2.39],[2.37,2.27],[2.40,2.65],[2.43,2.38],[2.46,2.56],[2.49,2.34],[2.52,2.64],[2.55,2.49],
  [2.58,2.74],[2.61,2.46],[2.64,2.85],[2.67,2.53],[2.70,2.78],[2.73,2.71],[2.76,2.92],[2.79,2.57],[2.82,2.87],[2.85,2.75],
  [2.88,3.13],[2.91,2.86],[2.94,3.04],[2.97,2.82],[3.00,3.10],[3.03,2.96],[3.06,3.14],[3.09,2.94],[3.12,3.13],
  [-3.10,-3.05],[-3.02,-2.97],[-2.95,-3.00],[-2.86,-2.80],[-2.74,-2.70],[-2.69,-2.74],[-2.62,-2.67],[-2.56,-2.48],[-2.47,-2.51],[-2.42,-2.36],
  [-2.35,-2.40],[-2.27,-2.24],[-2.20,-2.18],[-2.14,-2.09],[-2.06,-2.02],[-1.99,-2.02],[-1.91,-1.86],[-1.84,-1.70],[-1.76,-1.73],[-1.70,-1.62],
  [-1.63,-1.69],[-1.57,-1.50],[-1.52,-1.56],[-1.46,-1.38],[-1.40,-1.37],[-1.33,-1.28],[-1.25,-1.22],[-1.19,-1.26],[-1.13,-1.06],[-1.07,-1.02],
  [-1.00,-0.96],[-0.94,-0.92],[-0.88,-0.90],[-0.82,-0.74],[-0.76,-0.77],[-0.70,-0.68],[-0.64,-0.55],[-0.58,-0.60],[-0.52,-0.44],[-0.47,-0.50],
  [-0.41,-0.29],[-0.34,-0.33],[-0.28,-0.32],[-0.22,-0.17],[-0.16,-0.11],[-0.10,-0.06],[-0.04,0.04],[0.02,0.03],[0.08,0.12],[0.14,0.19],
  [0.20,0.17],[0.26,0.28],[0.32,0.40],[0.38,0.35],[0.44,0.49],[0.50,0.55],[0.56,0.53],[0.62,0.60],[0.68,0.77],[0.74,0.75],
  [0.80,0.87],[0.86,0.83],[0.92,1.02],[0.98,1.03],[1.04,1.00],[1.10,1.13],[1.16,1.24],[1.22,1.27],[1.28,1.35],[1.34,1.26],
  [1.40,1.51],[1.46,1.56],[1.52,1.49],[1.58,1.70],[1.64,1.64],[1.70,1.72],[1.76,1.88],[1.82,1.81],[1.88,2.00],[1.94,1.98],
  [2.00,2.13],[2.06,2.05],[2.12,2.20],[2.18,2.23],[2.24,2.33],[2.30,2.29],[2.36,2.47],[2.42,2.44],[2.48,2.59],[2.54,2.57],
  [2.60,2.70],[2.66,2.61],[2.72,2.80],[2.78,2.93],[2.84,2.98],[2.90,3.01],[2.96,3.07],[3.02,3.13],[3.08,3.06],
];
const p4Fill: number[][] = [
  [-3.10,-2.90],[-3.06,-3.11],[-3.02,-3.12],[-2.98,-2.90],[-2.94,-2.64],[-2.90,-3.05],[-2.86,-2.86],[-2.82,-2.68],[-2.78,-3.00],[-2.74,-2.69],
  [-2.70,-2.80],[-2.66,-2.40],[-2.62,-2.92],[-2.58,-2.47],[-2.54,-2.56],[-2.50,-2.32],[-2.46,-2.26],[-2.42,-2.47],[-2.38,-2.63],[-2.34,-2.26],
  [-2.30,-2.00],[-2.26,-2.41],[-2.22,-2.22],[-2.18,-2.04],[-2.14,-2.36],[-2.10,-2.05],[-2.06,-2.16],[-2.02,-1.76],[-1.98,-2.28],[-1.94,-1.83],
  [-1.90,-1.92],[-1.86,-1.68],[-1.82,-1.62],[-1.78,-1.83],[-1.74,-1.99],[-1.70,-1.62],[-1.66,-1.36],[-1.62,-1.77],[-1.58,-1.58],[-1.54,-1.40],
  [-1.50,-1.72],[-1.46,-1.41],[-1.42,-1.52],[-1.38,-1.12],[-1.34,-1.64],[-1.30,-1.19],[-1.26,-1.28],[-1.22,-1.04],[-1.18,-0.98],[-1.14,-1.19],
  [-1.10,-1.35],[-1.06,-0.98],[-1.02,-0.72],[-0.98,-1.13],[-0.94,-0.94],[-0.90,-0.76],[-0.86,-1.08],[-0.82,-0.77],[-0.78,-0.88],[-0.74,-0.48],
  [-0.70,-1.00],[-0.66,-0.55],[-0.62,-0.64],[-0.58,-0.40],[-0.54,-0.34],[-0.50,-0.55],[-0.46,-0.71],[-0.42,-0.34],[-0.38,-0.08],[-0.34,-0.49],
  [-0.30,-0.30],[-0.26,-0.12],[-0.22,-0.44],[-0.18,-0.13],[-0.14,-0.24],[-0.10,0.16],[-0.06,-0.36],[-0.02,0.09],[0.02,0.00],[0.06,0.24],
  [0.10,0.30],[0.14,0.09],[0.18,-0.07],[0.22,0.30],[0.26,0.56],[0.30,0.15],[0.34,0.34],[0.38,0.52],[0.42,0.20],[0.46,0.51],
  [0.50,0.40],[0.54,0.80],[0.58,0.28],[0.62,0.73],[0.66,0.64],[0.70,0.88],[0.74,0.94],[0.78,0.73],[0.82,0.57],[0.86,0.94],
  [0.90,1.20],[0.94,0.79],[0.98,0.98],[1.02,1.16],[1.06,0.84],[1.10,1.15],[1.14,1.04],[1.18,1.44],[1.22,0.92],[1.26,1.37],
  [1.30,1.28],[1.34,1.52],[1.38,1.58],[1.42,1.37],[1.46,1.21],[1.50,1.58],[1.54,1.84],[1.58,1.43],[1.62,1.62],[1.66,1.80],
  [1.70,1.48],[1.74,1.79],[1.78,1.68],[1.82,2.08],[1.86,1.56],[1.90,2.01],[1.94,1.92],[1.98,2.16],[2.02,2.22],[2.06,2.01],
  [2.10,1.85],[2.14,2.22],[2.18,2.48],[2.22,2.07],[2.26,2.26],[2.30,2.44],[2.34,2.12],[2.38,2.43],[2.42,2.32],[2.46,2.72],
  [2.50,2.20],[2.54,2.65],[2.58,2.56],[2.62,2.80],[2.66,2.86],[2.70,2.65],[2.74,2.49],[2.78,2.86],[2.82,3.12],[2.86,2.71],
  [2.90,2.90],[2.94,3.08],[2.98,2.76],[3.02,3.07],[3.06,2.96],[3.10,3.13],
];
const p4Out: number[][] = [
  [-3.09,3.05],[-3.05,3.13],[-3.01,3.13],[-3.00,3.06],[-3.13,2.35],[-2.87,2.65],[-2.95,2.02],[-2.86,2.12],[-2.87,1.64],
  [-3.14,1.48],[-3.12,1.19],[-3.09,1.48],[-3.08,1.48],[-3.02,1.64],[-3.00,1.64],[-2.98,1.44],[-2.91,1.27],[-2.92,1.19],[-2.90,1.22],
  [-2.89,1.15],[-2.90,1.46],[-2.84,1.09],[-2.82,1.06],[-2.80,1.47],[-2.78,1.47],[-2.77,1.13],[-2.75,1.25],[-2.74,1.11],[-2.73,1.23],
  [-2.71,1.15],[-2.69,0.84],[-2.60,1.17],[-2.51,0.78],[-2.45,0.84],[-2.41,1.15],[-2.40,0.74],[-2.34,0.81],[-2.34,0.62],[-2.31,2.02],
  [-2.28,0.92],[-2.27,0.74],[-2.20,0.62],[-2.17,0.57],
  [-3.05,0.08],[-3.10,-0.30],[-3.14,-0.44],[-2.76,-0.02],[-3.11,-1.58],
  [-2.04,2.60],[-2.09,1.70],[-2.08,0.45],[-2.02,0.24],[-2.00,0.56],[-1.99,0.43],[-1.97,0.18],[-1.95,0.56],[-1.94,0.43],[-1.92,0.39],
  [-1.89,0.50],[-1.87,0.39],[-1.85,0.03],[-1.83,0.43],[-1.82,0.18],[-1.80,0.56],[-1.80,0.35],[-1.79,-0.06],[-1.78,0.05],[-1.75,0.15],
  [-1.72,0.39],[-1.70,0.24],[-1.67,0.35],[-1.62,0.30],[-1.60,0.35],[-1.60,0.07],[-1.57,0.05],[-1.51,0.30],[-1.48,0.03],
  [-1.77,3.09],[-1.71,3.04],[-1.69,1.12],[-1.41,1.51],
  [-1.54,3.09],[-1.52,2.75],[-1.50,2.98],[-1.47,2.98],[-1.46,2.85],[-1.44,3.07],[-1.41,2.85],[-1.35,2.95],[-1.35,2.67],[-1.33,2.77],
  [-1.30,2.81],[-1.29,2.98],[-1.27,3.05],[-1.26,3.07],[-1.24,2.60],[-1.22,2.71],[-1.21,3.00],[-1.20,2.56],[-1.18,2.79],[-1.10,3.03],
  [-1.07,3.07],[-1.08,2.68],[-1.00,2.56],[-0.98,2.62],[-0.92,2.41],[-0.91,2.60],[-0.91,2.73],[-0.89,3.07],[-0.82,2.65],[-0.81,2.56],
  [-0.78,2.33],[-0.76,2.39],[-0.72,2.67],[-0.69,2.30],[-0.66,2.41],[-0.63,1.99],[-0.62,2.33],[-0.60,2.12],[-0.58,2.09],[-0.55,2.14],
  [-0.53,2.18],[-0.51,2.02],[-0.44,2.13],[-0.41,2.35],[-0.37,1.68],[-0.37,1.86],[-0.34,1.99],[-0.32,2.03],[-0.29,1.95],[-0.25,1.61],
  [-0.26,1.64],[-0.23,1.64],[-0.20,1.60],[-0.19,1.81],[-0.18,1.88],[-0.17,2.03],[-0.15,1.64],[-0.11,1.64],[-0.07,1.64],[-0.20,1.26],
  [-0.08,1.27],[-0.14,3.15],[0.03,1.86],[0.05,1.31],[0.12,2.00],
  [-2.96,-2.32],[-3.03,-2.64],[-2.99,-2.71],[-2.94,-2.80],[-2.94,-2.84],[-2.86,-2.73],[-2.84,-2.71],[-2.82,-2.88],[-2.81,-2.90],[-2.78,-2.69],
  [-2.78,-2.44],[-2.79,-3.11],[-2.75,-2.50],[-2.73,-3.00],[-3.13,-3.01],[-3.10,-3.03],[-3.06,-3.14],[-3.04,-2.99],[-3.02,-3.05],[-2.98,-3.14],
  [-2.96,-3.00],[-2.94,-2.99],
  [-1.70,-2.04],[-1.70,-1.86],[-1.61,-1.86],[-1.52,-2.10],[-1.75,-1.22],[-1.26,-2.51],[-1.15,-1.58],[-1.12,-1.43],[-1.12,-0.79],
  [-1.68,-3.11],[-1.69,-3.07],[-1.47,-3.11],[-1.33,-3.13],[-1.23,-3.11],[-2.21,-2.67],[-2.11,-2.46],
  [-0.38,0.09],[-0.40,-0.08],[-0.38,-0.68],[-0.56,-1.93],[-0.46,-1.97],[-0.28,-2.27],[-0.25,-3.09],
  [1.23,3.11],[1.37,3.05],[1.38,3.03],[1.49,3.11],[1.61,3.15],[1.59,2.88],[2.49,3.08],
  [0.75,2.16],[0.78,2.27],[0.91,2.43],[1.03,2.19],
  [3.00,1.43],[3.10,1.55],[3.01,1.21],[3.08,1.30],[3.05,1.09],[3.11,1.19],[3.11,2.54],
  [2.81,0.46],[2.97,-0.02],
  [1.53,0.36],[1.51,-0.08],[1.49,-0.39],[1.60,0.05],[1.61,-0.24],[1.64,-0.77],[1.63,-0.30],[1.66,-0.30],[1.70,-0.18],[1.71,-0.35],
  [1.73,0.14],[1.74,-0.10],[1.75,-0.01],[1.77,-0.24],[1.78,-0.35],[1.80,0.01],[1.84,-0.03],[1.84,-0.43],[1.86,-0.35],[1.87,-0.41],
  [1.89,-0.41],[1.90,-0.06],[1.81,-1.03],[1.93,-0.30],[1.97,-0.29],[2.02,-0.35],[2.02,-0.08],[2.07,-0.50],[2.13,-0.03],[2.15,-0.65],
  [2.23,-0.75],[2.23,-0.82],[2.24,-0.73],[2.28,-0.99],[2.30,-0.69],[2.37,-0.84],[2.44,-0.96],
  [2.58,-1.51],[2.61,-1.32],[2.68,-1.51],[2.63,-2.13],[2.67,-2.33],[2.75,-1.41],[2.76,-1.24],[2.78,-1.47],[2.79,-1.38],[2.83,-1.59],
  [2.84,-1.41],[2.86,-1.22],[2.87,-1.17],[2.88,-1.13],[2.90,-1.45],[2.91,-1.49],[2.91,-1.97],[2.93,-1.30],[2.95,-1.58],[2.97,-1.72],
  [2.98,-1.17],[2.99,-1.85],[3.03,-1.37],[3.05,-1.16],[3.07,-1.28],[3.08,-1.54],[3.10,-1.61],
  [2.86,-3.07],[2.92,-3.07],[2.99,-3.13],[3.14,-2.84],[3.14,-3.11],
  [2.34,-2.44],[2.04,-2.63],[1.92,-3.05],
  [0.83,-1.17],[1.14,-1.47],[1.17,-1.26],[1.15,-0.79],[1.41,-1.54],[1.11,0.56],
  [-0.16,-0.75],[-0.13,-1.82],[-0.11,-2.19],[-0.26,-2.24],[-0.02,-1.95],[0.08,-1.41],[0.07,-1.64],[0.09,-1.57],[0.10,-1.64],[0.13,-2.08],
  [0.18,-1.58],[0.19,-1.72],[0.20,-2.08],[0.21,-1.87],[0.23,-1.61],[0.23,-1.93],[0.26,-1.54],[0.26,-1.91],[0.28,-2.27],[0.30,-1.64],
  [0.30,-1.93],[0.32,-1.83],[0.37,-1.93],[0.39,-1.87],[0.40,-1.93],[0.45,-2.04],[0.50,-1.66],[0.54,-1.68],[0.52,-2.20],[0.56,-2.33],
  [0.57,-2.04],[0.59,-2.20],[0.66,-2.20],[0.71,-2.14],
  [0.89,-2.54],[0.91,-2.75],[0.95,-2.46],[1.00,-2.73],[1.07,-2.52],[1.10,-2.65],[1.12,-2.69],[1.19,-2.59],[1.21,-2.68],[1.25,-2.57],
  [1.26,-3.01],[1.27,-2.29],[1.28,-2.82],[1.30,-2.84],[1.32,-2.63],[1.33,-3.05],[1.34,-3.00],[1.36,-3.05],[1.40,-2.73],[1.41,-2.84],
  [1.44,-2.79],[1.46,-3.10],[1.53,-3.11],[1.55,-3.05],[1.56,-2.78],[1.57,-3.10],[1.63,-2.75],
  [-0.25,-3.09],
];

const PANELS = [
  p1Diag.concat(p1Fill, p1Out),
  p2Diag.concat(p2Fill, p2Out),
  p3Diag.concat(p3Fill, p3Out),
  p4Diag.concat(p4Fill, p4Out),
];

// layout (pixels)
const GRIDS = [
  { left: 74, top: 38, width: 1033, height: 315, titleTop: 9 },
  { left: 77, top: 469, width: 1027, height: 315, titleTop: 441 },
  { left: 84, top: 899, width: 1013, height: 317, titleTop: 871.5 },
  { left: 79, top: 1330, width: 1022, height: 317, titleTop: 1302.5 },
];

const FONT = "DejaVu Sans";
const fmt = (v: number) => (v < 0 ? "\u2212" + Math.abs(v) : String(v));

export default function App() {
  const ref = useRef<HTMLDivElement>(null);
  useEffect(() => {
    if (!ref.current) return;
    const chart = echarts.init(ref.current, null, { renderer: "svg" });
    const lineStyle = { color: "#000", width: 1.3 };
    const tick = { show: true, inside: true, length: 6, lineStyle: { color: "#000", width: 1 } };
    const label = { fontSize: 20, color: "#000", fontFamily: FONT, formatter: fmt };
    const nameStyle = { fontSize: 20, color: "#000", fontFamily: FONT };
    const xAxis: any[] = [];
    const yAxis: any[] = [];
    const series: any[] = [];
    const title: any[] = [];
    GRIDS.forEach((g, i) => {
      const base = { gridIndex: i, type: "value", min: AXIS_MIN, max: AXIS_MAX, interval: AXIS_STEP, splitLine: { show: false } };
      xAxis.push({
        ...base, position: "bottom", name: X_NAME, nameLocation: "middle", nameGap: 33, nameTextStyle: nameStyle,
        axisLine: { show: true, onZero: false, lineStyle }, axisTick: tick, axisLabel: { ...label, margin: 7 },
      });
      xAxis.push({
        ...base, position: "top",
        axisLine: { show: true, onZero: false, lineStyle }, axisTick: tick, axisLabel: { show: false },
      });
      yAxis.push({
        ...base, position: "left", name: Y_NAME, nameLocation: "middle", nameGap: 44, nameTextStyle: nameStyle,
        axisLine: { show: true, onZero: false, lineStyle }, axisTick: tick, axisLabel: { ...label, margin: 7 },
      });
      yAxis.push({
        ...base, position: "right",
        axisLine: { show: true, onZero: false, lineStyle }, axisTick: tick, axisLabel: { show: false },
      });
      series.push({
        type: "scatter", xAxisIndex: 2 * i, yAxisIndex: 2 * i, data: PANELS[i], symbol: "circle", symbolSize: 7,
        itemStyle: { color: "#0000ff", opacity: 1 }, silent: true, progressive: 0,
      });
      title.push({
        text: TITLES[i], left: g.left + g.width / 2, top: g.titleTop, textAlign: "center", padding: 0,
        textStyle: { fontSize: 24, fontWeight: "normal", color: "#000", fontFamily: FONT },
      });
    });
    chart.setOption({
      animation: false,
      backgroundColor: "#fff",
      title,
      grid: GRIDS.map((g) => ({ left: g.left, top: g.top, width: g.width, height: g.height, containLabel: false })),
      xAxis,
      yAxis,
      series,
    });
    return () => chart.dispose();
  }, []);
  return <div ref={ref} style={{ position: "absolute", left: 0, top: 0, width: 1118, height: 1702 }} />;
}
